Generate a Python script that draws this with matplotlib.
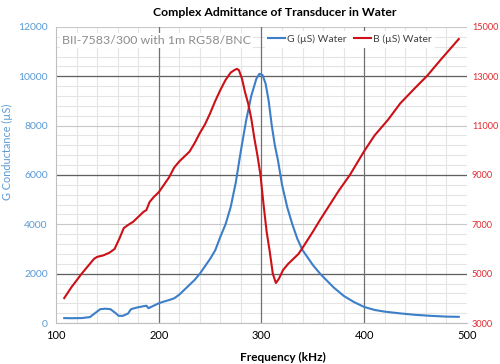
import matplotlib
matplotlib.use("Agg")
import matplotlib.pyplot as plt
from matplotlib.ticker import MultipleLocator

plt.rcParams['font.family'] = ['Lato', 'DejaVu Sans']

# G conductance (left axis)
g_freq = [108, 115, 125, 133, 138, 143, 148, 153, 158, 161, 165, 170, 173, 178, 185, 188, 190,
          195, 200, 205, 210, 215, 220, 225, 230, 235, 240, 245, 250, 255, 260, 265, 270, 275,
          280, 285, 290, 295, 298, 301, 304, 307, 310, 313, 316, 320, 325, 330, 335, 340, 350,
          357, 370, 380, 390, 400, 410, 420, 435, 450, 465, 480, 492]
g_vals = [200, 195, 200, 240, 400, 560, 580, 560, 400, 290, 290, 380, 560, 620, 680, 700, 600,
          700, 800, 870, 930, 1000, 1150, 1350, 1550, 1750, 2000, 2300, 2600, 2950, 3500, 4000,
          4700, 5700, 7000, 8200, 9200, 9900, 10100, 10050, 9700, 9000, 8000, 7200, 6600, 5600,
          4700, 4000, 3400, 2950, 2350, 2000, 1450, 1100, 850, 650, 530, 460, 390, 330, 290, 260, 250]

# B susceptance (right axis)
b_freq = [108, 115, 125, 132, 137, 140, 146, 152, 157, 162, 166, 170, 175, 180, 185, 188, 191,
          195, 200, 205, 210, 215, 220, 225, 230, 235, 240, 245, 250, 255, 260, 265, 270, 274,
          276, 278, 281, 284, 287, 290, 293, 296, 299, 302, 305, 308, 311, 314, 317, 321, 326,
          331, 336, 340, 350, 357, 365, 375, 386, 400, 410, 423, 435, 450, 461, 475, 492]
b_vals = [4010, 4450, 5000, 5350, 5600, 5680, 5740, 5850, 6000, 6450, 6850, 6970, 7100, 7300,
          7500, 7580, 7900, 8100, 8300, 8600, 8900, 9300, 9550, 9750, 9950, 10300, 10700, 11050,
          11500, 12000, 12450, 12850, 13150, 13260, 13300, 13250, 12900, 12350, 11900, 11300,
          10500, 9800, 9000, 7800, 6700, 5900, 5000, 4620, 4800, 5150, 5400, 5600, 5800, 6050,
          6700, 7180, 7700, 8350, 9000, 9970, 10600, 11230, 11900, 12550, 13010, 13700, 14510]

left_ticks = [0, 2000, 4000, 6000, 8000, 10000, 12000]
right_ticks = [3000, 5000, 7000, 9000, 11000, 13000, 15000]
x_ticks = [100, 200, 300, 400, 500]

BLUE = '#3c7fc8'
RED = '#cc1016'
BLUE_T = '#5b9bd5'
RED_T = '#e0282e'

fig = plt.figure(figsize=(5.0, 3.64), dpi=100)
ax = fig.add_axes([0.112, 0.1126, 0.822, 0.8134])
ax2 = ax.twinx()

ax.set_xlim(100, 500)
ax.set_ylim(0, 12000)
ax2.set_ylim(3000, 15000)

# grid
ax.xaxis.set_minor_locator(MultipleLocator(20))
ax.yaxis.set_minor_locator(MultipleLocator(400))
ax.grid(which='minor', color='#e4e4e4', lw=0.8)
ax.grid(which='major', axis='y', color='#c8c8c8', lw=0.8)
for yv in [2000, 6000, 10000]:
    ax.axhline(yv, color='#606060', lw=0.9, zorder=0.7)
for xv in [200, 300, 400]:
    ax.axvline(xv, color='#707070', lw=0.9, zorder=0.7)
ax.set_axisbelow(True)

ax.set_xticks(x_ticks)
ax.set_yticks(left_ticks)
ax2.set_yticks(right_ticks)

lg, = ax.plot(g_freq, g_vals, color=BLUE, lw=1.5, label='G (µS) Water', zorder=3)
lb, = ax2.plot(b_freq, b_vals, color=RED, lw=1.5, label='B (µS) Water', zorder=3)

for a in (ax, ax2):
    for s in a.spines.values():
        s.set_visible(False)
ax.spines['left'].set_visible(True)
ax.spines['left'].set_color('#bfbfbf')
ax.spines['bottom'].set_visible(True)
ax.spines['bottom'].set_color('#bfbfbf')

ax.tick_params(axis='x', which='both', length=0, labelsize=8, colors='black', pad=5)
ax.tick_params(axis='y', which='both', length=0, labelsize=7.5, labelcolor=BLUE_T, pad=6)
ax2.tick_params(axis='y', which='both', length=0, labelsize=6.6, labelcolor=RED_T, pad=3.5)

ax.set_xlabel('Frequency (kHz)', fontsize=8.5, fontweight='bold')
ax.xaxis.set_label_coords(0.552, -0.098)
ax.set_ylabel('G Conductance (µS)', fontsize=7.8, color=BLUE_T)
ax.yaxis.set_label_coords(-0.104, 0.578)

fig.text(0.549, 0.966, 'Complex Admittance of Transducer in Water', ha='center', va='center',
         fontsize=8.8, fontweight='bold')

ax.text(0.015, 0.955, 'BII-7583/300 with 1m RG58/BNC', transform=ax.transAxes, ha='left',
        va='center', fontsize=8.9, color='#8c8c8c',
        bbox=dict(facecolor='white', edgecolor='none', pad=1.5), zorder=5)

leg = ax2.legend(handles=[lg, lb], loc='upper left', bbox_to_anchor=(0.495, 1.005), ncol=2,
                 frameon=True, fontsize=7.5, handlelength=1.6, handletextpad=0.15,
                 columnspacing=0.8, borderpad=0.35, fancybox=False)
leg.get_frame().set_edgecolor('none')
leg.get_frame().set_facecolor('white')
leg.get_frame().set_alpha(1)
for t in leg.get_texts():
    t.set_color('#404040')

fig.savefig('out.png', dpi=100)
